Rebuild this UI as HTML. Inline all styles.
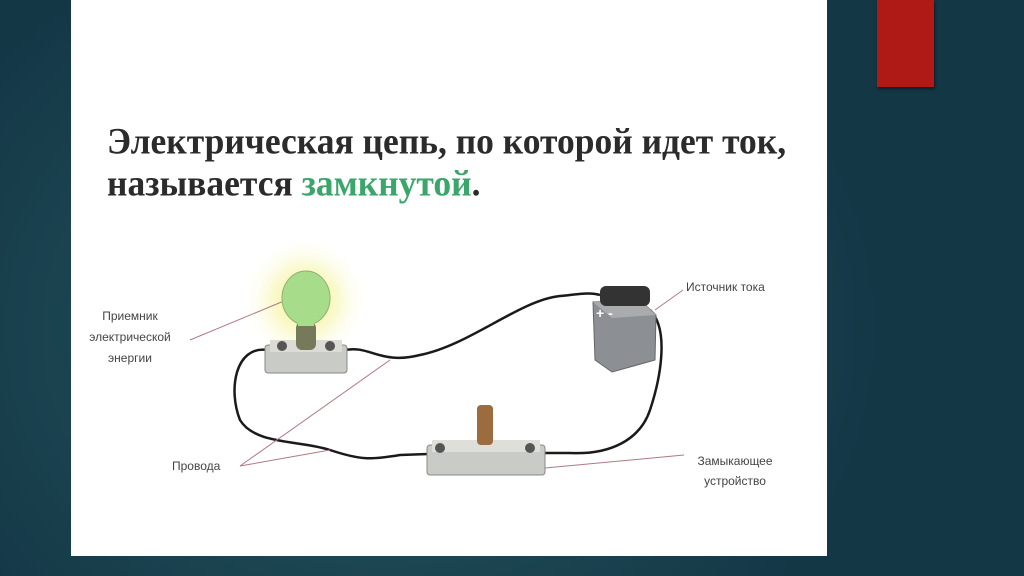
<!DOCTYPE html>
<html><head><meta charset="utf-8"><style>
html,body{margin:0;padding:0;width:1024px;height:576px;overflow:hidden;}
body{background:radial-gradient(ellipse 500px 420px at 380px 330px,#2a5c62 0%,#1c4652 55%,#143746 100%);position:relative;font-family:"Liberation Sans",sans-serif;}
#panel{position:absolute;left:71px;top:0;width:756px;height:556px;background:#fff;}
#red{position:absolute;left:877px;top:0;width:57px;height:87px;background:#b01a16;box-shadow:1px 2px 3px rgba(0,0,0,.5);}
.t{position:absolute;left:107px;font-family:"Liberation Serif",serif;font-weight:bold;font-size:35.5px;line-height:40px;color:#2b2b2b;white-space:nowrap;transform:scaleY(1.05);transform-origin:left top;}
</style></head><body>
<div id="panel"></div>
<div id="red"></div>
<div class="t" style="top:120px">Электрическая цепь, по которой идет ток,</div>
<div class="t" style="top:162px">называется <span style="color:#3aa66a">замкнутой</span>.</div>
<svg width="1024" height="576" style="position:absolute;left:0;top:0" font-family="Liberation Sans, sans-serif" font-size="12" fill="#444">
<defs><radialGradient id="g"><stop offset="0" stop-color="#f3f27a"/><stop offset="0.5" stop-color="#f8f7b8" stop-opacity="0.7"/><stop offset="1" stop-color="#fff" stop-opacity="0"/></radialGradient></defs>
<circle cx="305" cy="300" r="65" fill="url(#g)"/>
<g fill="none" stroke="#1a1a1a" stroke-width="2.5">
<path d="M268 350 C235 345 228 390 240 420 C255 445 300 440 330 450 C360 460 370 460 400 455 L428 454"/>
<path d="M345 350 C370 345 380 365 420 355 C470 345 520 300 560 296 C580 294 590 292 600 295"/>
<path d="M650 310 C670 330 660 380 650 410 C640 440 610 455 570 453 L545 453"/>
</g>
<g stroke="#b07a80" stroke-width="1" fill="none">
<line x1="190" y1="340" x2="296" y2="296"/>
<line x1="240" y1="466" x2="390" y2="360"/>
<line x1="240" y1="466" x2="330" y2="450"/>
<line x1="655" y1="310" x2="683" y2="290"/>
<line x1="545" y1="468" x2="684" y2="455"/>
</g>
<rect x="265" y="345" width="82" height="28" rx="3" fill="#c9cbc6" stroke="#888"/>
<rect x="270" y="340" width="72" height="12" fill="#dcdcd6"/>
<circle cx="282" cy="346" r="5" fill="#555"/><circle cx="330" cy="346" r="5" fill="#555"/>
<rect x="296" y="322" width="20" height="28" rx="6" fill="#777a5a"/>
<ellipse cx="306" cy="298" rx="24" ry="27" fill="#a7dc8a" stroke="#8fb070"/>
<rect x="298" y="312" width="16" height="14" fill="#a7dc8a"/>
<path d="M593 302 L640 300 L656 315 L655 360 L612 372 L595 360 Z" fill="#8c8f93" stroke="#666"/>
<path d="M593 302 L640 300 L656 315 L612 318 Z" fill="#a9abad"/>
<rect x="600" y="286" width="50" height="20" rx="6" fill="#333"/>
<text x="596" y="318" fill="#fff" font-size="14" font-weight="bold">+ -</text>
<rect x="427" y="445" width="118" height="30" rx="3" fill="#c9cbc6" stroke="#888"/>
<rect x="432" y="440" width="108" height="12" fill="#dedfd8"/>
<circle cx="440" cy="448" r="5" fill="#555"/><circle cx="530" cy="448" r="5" fill="#555"/>
<rect x="477" y="405" width="16" height="40" rx="4" fill="#9c6b3e"/>
<text x="130" y="320" text-anchor="middle">Приемник</text>
<text x="130" y="341" text-anchor="middle">электрической</text>
<text x="130" y="362" text-anchor="middle">энергии</text>
<text x="686" y="291">Источник тока</text>
<text x="172" y="470">Провода</text>
<text x="735" y="465" text-anchor="middle">Замыкающее</text>
<text x="735" y="485" text-anchor="middle">устройство</text>
</svg>
</body></html>
